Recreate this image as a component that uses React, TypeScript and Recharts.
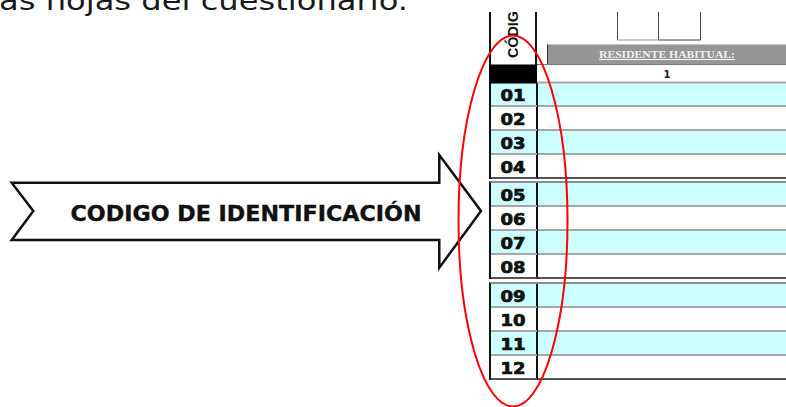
import { Bar, BarChart, XAxis, YAxis } from "recharts";

const introText = "as hojas del cuestionario.";
const arrowLabel = "CODIGO DE IDENTIFICACIÓN";
const columnTitle = "CÓDIGO";
const headerTitle = "RESIDENTE HABITUAL:";
const headerColumn = "1";

const codesFirst = ["01", "02", "03", "04"];
const codesSecond = ["05", "06", "07", "08"];
const codesThird = ["09", "10", "11", "12"];
// every row is one full-width answer strip
const rowValues = [1, 1, 1, 1];
const rowShaded = [true, false, true, false];

const CYAN = "#ccffff";
const RULE = "#a6a6a6";
const INK = "#111";

function CodeTick(props: any) {
  const { y, payload, index } = props;
  const shaded = rowShaded[index ?? 0];
  const last = index === rowShaded.length - 1;
  return (
    <g>
      <rect x={0} y={y - 12} width={45} height={24} fill={shaded ? CYAN : "#fff"} />
      <line x1={0} x2={46} y1={y + 11} y2={y + 11} stroke={last ? "#555" : RULE} strokeWidth={2} />
      <text
        x={22}
        y={y + 5.5}
        textAnchor="middle"
        fontFamily="DejaVu Sans"
        fontWeight="bold"
        fontSize={15}
        textLength={25}
        lengthAdjust="spacingAndGlyphs"
        fill={INK}
        stroke={INK}
        strokeWidth={0.7}
      >
        {payload.value}
      </text>
    </g>
  );
}

function RowStrip(props: any) {
  const { x, y, width, height, payload, index } = props;
  const shaded = payload?.shaded ?? rowShaded[index ?? 0];
  const last = index === rowShaded.length - 1;
  return (
    <g>
      <rect x={x} y={y} width={width} height={height} fill={shaded ? CYAN : "#fff"} />
      <line x1={x} x2={x + width} y1={y + height - 1} y2={y + height - 1} stroke={last ? "#555" : RULE} strokeWidth={2} />
      <line x1={x} x2={x} y1={y} y2={y + height} stroke={INK} strokeWidth={2} />
    </g>
  );
}

function CodeGroup({ codes, top, ruled }: { codes: string[]; top: number; ruled: boolean }) {
  const data = codes.map((code, i) => ({ code, value: rowValues[i], shaded: rowShaded[i] }));
  return (
    <div
      style={{
        position: "absolute",
        left: 489,
        top,
        borderLeft: `2px solid ${INK}`,
        borderTop: ruled ? "2px solid #8c8c8c" : "none",
      }}
    >
      <BarChart
        layout="vertical"
        width={296}
        height={96}
        data={data}
        margin={{ top: 0, right: 0, bottom: 0, left: 0 }}
        barCategoryGap={0}
      >
        <XAxis type="number" domain={[0, 1]} hide />
        <YAxis
          type="category"
          dataKey="code"
          width={46}
          interval={0}
          axisLine={false}
          tickLine={false}
          tick={(p: any) => <CodeTick {...p} />}
        />
        <Bar dataKey="value" isAnimationActive={false} shape={(p: any) => <RowStrip {...p} />} />
      </BarChart>
    </div>
  );
}

export default function App() {
  return (
    <div
      style={{
        position: "absolute",
        left: 0,
        top: 0,
        width: 786,
        height: 407,
        overflow: "hidden",
        background: "#fff",
      }}
    >
      <CodeGroup codes={codesFirst} top={83} ruled={false} />
      <CodeGroup codes={codesSecond} top={181} ruled />
      <CodeGroup codes={codesThird} top={282} ruled />

      <svg
        width={786}
        height={407}
        style={{ position: "absolute", left: 0, top: 0, pointerEvents: "none" }}
      >
        <defs>
          <clipPath id="formTop">
            <rect x={440} y={12} width={346} height={395} />
          </clipPath>
        </defs>

        <text x={-1} y={10} fontFamily="DejaVu Sans" fontSize={26} fill="#1a1a1a" textLength={409} lengthAdjust="spacingAndGlyphs">
          {introText}
        </text>

        <polygon
          points="11.7,182.7 439.3,182.7 439.3,155 481,211 439.3,267.7 439.3,240 11.7,240 33.3,211"
          fill="#fff"
          stroke={INK}
          strokeWidth={2.5}
          strokeLinejoin="miter"
        />
        <text
          x={246}
          y={220.5}
          textAnchor="middle"
          fontFamily="DejaVu Sans"
          fontWeight="bold"
          fontSize={21}
          textLength={351}
          lengthAdjust="spacingAndGlyphs"
          fill={INK}
          stroke={INK}
          strokeWidth={0.4}
        >
          {arrowLabel}
        </text>

        <g clipPath="url(#formTop)">
          <line x1={490} x2={490} y1={0} y2={66} stroke={INK} strokeWidth={2} />
          <line x1={536} x2={536} y1={0} y2={66} stroke={INK} strokeWidth={2} />
          <g transform="translate(518,58) rotate(-90)">
            <text x={0} y={0} fontFamily="Liberation Sans" fontWeight="bold" fontSize={15} textLength={58} lengthAdjust="spacingAndGlyphs" fill={INK}>
              {columnTitle}
            </text>
          </g>

          <line x1={617.5} x2={617.5} y1={0} y2={40} stroke="#444" strokeWidth={1} />
          <line x1={658.5} x2={658.5} y1={0} y2={40} stroke="#444" strokeWidth={1} />
          <line x1={700.5} x2={700.5} y1={0} y2={40} stroke="#444" strokeWidth={1} />
          <line x1={617.5} x2={658.5} y1={40} y2={40} stroke="#bbb" strokeWidth={1.5} />
          <line x1={658.5} x2={700.5} y1={40} y2={40} stroke="#444" strokeWidth={1} />
        </g>

        <rect x={547} y={44.5} width={240} height={20} fill="#969696" />
        <line x1={547} x2={786} y1={44.5} y2={44.5} stroke="#c4c4c4" strokeWidth={1} />
        <line x1={547.5} x2={547.5} y1={44.5} y2={64.5} stroke="#333" strokeWidth={1} />
        <text
          x={667}
          y={58}
          textAnchor="middle"
          fontFamily="Liberation Serif"
          fontWeight="bold"
          fontSize={10.5}
          textLength={136}
          lengthAdjust="spacingAndGlyphs"
          textDecoration="underline"
          fill="#f0f0f0"
        >
          {headerTitle}
        </text>

        <rect x={489} y={64.5} width={48} height={19} fill="#000" />
        <line x1={537} x2={786} y1={64.5} y2={64.5} stroke="#777" strokeWidth={1} />
        <line x1={537} x2={786} y1={82.5} y2={82.5} stroke={RULE} strokeWidth={2} />
        <text x={667} y={77.5} textAnchor="middle" fontFamily="DejaVu Sans" fontWeight="bold" fontSize={10} fill="#222">
          {headerColumn}
        </text>

        <ellipse cx={513} cy={221} rx={54.5} ry={185.5} fill="none" stroke="#ff0000" strokeWidth={2} />
      </svg>
    </div>
  );
}
